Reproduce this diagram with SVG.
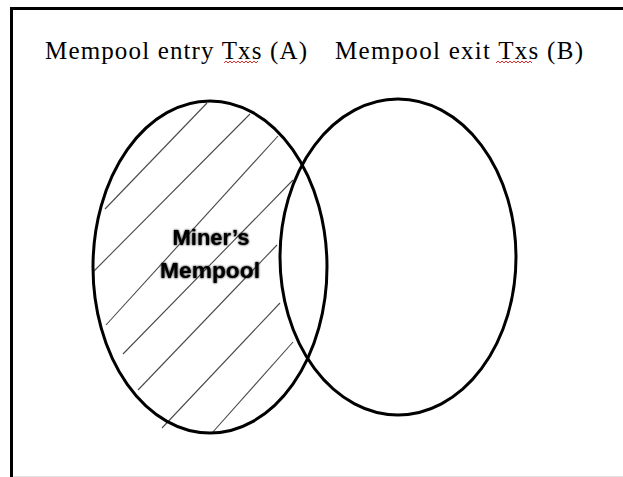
<svg xmlns="http://www.w3.org/2000/svg" width="623" height="477" viewBox="0 0 623 477">
<style>
.frame{fill:none;stroke:#000;stroke-width:3}
.set{fill:none;stroke:#000;stroke-width:3}
.hatch{stroke:#4a4a4a;stroke-width:1.1;fill:none}
.lbl{font-family:"Liberation Serif","Times New Roman",serif;font-size:25px;fill:#000}
.inner{font-family:"Liberation Sans",Arial,sans-serif;font-weight:bold;font-size:22px;fill:#000;text-anchor:middle}
.squig{fill:none;stroke:#e03030;stroke-width:1}
</style>
<defs>
<filter id="glow" x="-20%" y="-40%" width="140%" height="180%">
<feGaussianBlur in="SourceAlpha" stdDeviation="1.3" result="b"/>
<feMerge><feMergeNode in="b"/><feMergeNode in="SourceGraphic"/></feMerge>
</filter>
</defs>
<rect width="623" height="477" fill="#fff"/>
<path class="frame" d="M11.5,477 V8.5 H623"/>
<line x1="13" y1="476.5" x2="623" y2="476.5" stroke="#e2e2e2" stroke-width="1"/>
<g id="labels">
<text class="lbl" x="45" y="59" textLength="262" lengthAdjust="spacing">Mempool entry Txs (A)</text>
<text class="lbl" x="335" y="59" textLength="248" lengthAdjust="spacing">Mempool exit Txs (B)</text>
<path class="squig" d="M224,63 l2,-2 l2,2 l2,-2 l2,2 l2,-2 l2,2 l2,-2 l2,2 l2,-2 l2,2 l2,-2 l2,2 l2,-2 l2,2 l2,-2 l2,2 l2,-2"/>
<path class="squig" d="M496,63 l2,-2 l2,2 l2,-2 l2,2 l2,-2 l2,2 l2,-2 l2,2 l2,-2 l2,2 l2,-2 l2,2 l2,-2 l2,2 l2,-2 l2,2 l2,-2 l2,2"/>
</g>
<g id="hatching">
<line class="hatch" x1="105" y1="209" x2="207" y2="103"/>
<line class="hatch" x1="94" y1="271" x2="250" y2="114"/>
<line class="hatch" x1="106" y1="325" x2="278" y2="136"/>
<line class="hatch" x1="123" y1="354" x2="293" y2="180"/>
<line class="hatch" x1="138" y1="390" x2="277" y2="245"/>
<line class="hatch" x1="162" y1="428" x2="280" y2="303"/>
<line class="hatch" x1="212" y1="433" x2="293" y2="342"/>
</g>
<g id="setA">
<ellipse class="set" cx="210" cy="267" rx="117" ry="166"/>
</g>
<g id="setB">
<ellipse class="set" cx="398" cy="257" rx="118" ry="158"/>
</g>
<g id="minersMempool" filter="url(#glow)">
<text class="inner" x="211" y="245">Miner’s</text>
<text class="inner" x="210" y="278" textLength="100" lengthAdjust="spacingAndGlyphs">Mempool</text>
</g>
<g id="connectors"></g>
</svg>
